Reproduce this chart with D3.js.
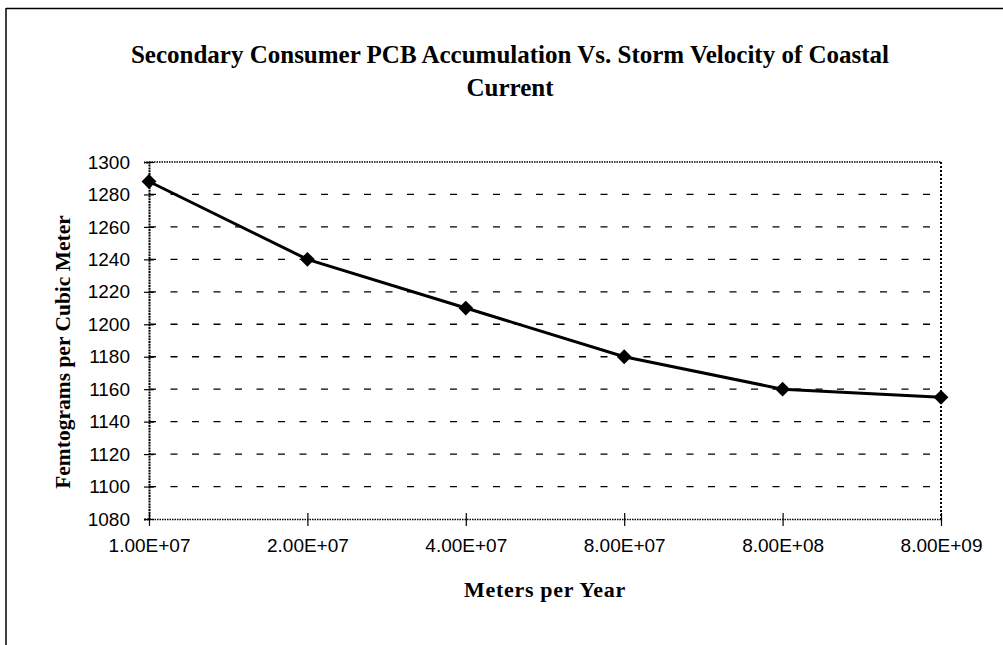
<!DOCTYPE html>
<html><head><meta charset="utf-8">
<script src="https://cdn.jsdelivr.net/npm/d3@7"></script>
<style>body{margin:0;background:#fff;} svg{display:block;}</style>
</head><body>
<svg id="chart" width="1003" height="645"></svg>
<script>
const categories = ["1.00E+07","2.00E+07","4.00E+07","8.00E+07","8.00E+08","8.00E+09"];
const values = [1288, 1240, 1210, 1180, 1160, 1155];
const yTicks = [1080,1100,1120,1140,1160,1180,1200,1220,1240,1260,1280,1300];
const titleLines = ["Secondary Consumer PCB Accumulation Vs. Storm Velocity of Coastal","Current"];
const xTitle = "Meters per Year";
const yTitle = "Femtograms per Cubic Meter";

const svg = d3.select("#chart");
const L = 149, R = 941, T = 162, B = 519;
const x = d3.scalePoint().domain(categories).range([L, R]);
const y = d3.scaleLinear().domain([1080, 1300]).range([B, T]);

// outer frame
svg.append("line").attr("x1",6).attr("x2",1003).attr("y1",8.5).attr("y2",8.5).attr("stroke","#000").attr("stroke-width",1.5);
svg.append("line").attr("x1",6).attr("x2",6).attr("y1",8).attr("y2",645).attr("stroke","#000").attr("stroke-width",1.5);

// title
const serif = "'Liberation Serif','Times New Roman',serif";
const sans = "'Liberation Sans',Arial,sans-serif";
svg.append("g").selectAll("text").data(titleLines).join("text")
  .attr("x", 510).attr("y", (d,i)=> 63 + i*33)
  .attr("text-anchor","middle").attr("font-family",serif).attr("font-weight","bold")
  .attr("font-size",25).text(d=>d);

// grid
svg.append("g").selectAll("line").data(yTicks.filter(v=>v>1080 && v<1300)).join("line")
  .attr("x1",L).attr("x2",R-4).attr("y1",d=>y(d)).attr("y2",d=>y(d))
  .attr("stroke","#000").attr("stroke-width",1.3).attr("stroke-dasharray","7,14.5");

// plot border top / right
svg.append("line").attr("x1",L).attr("x2",R).attr("y1",T).attr("y2",T)
  .attr("stroke","#000").attr("stroke-width",1.5).attr("stroke-dasharray","1.5,1");
svg.append("line").attr("x1",R).attr("x2",R).attr("y1",T).attr("y2",B)
  .attr("stroke","#000").attr("stroke-width",2).attr("stroke-dasharray","2,2");

// y axis
const ya = svg.append("g").attr("transform",`translate(${L},0)`)
  .call(d3.axisLeft(y).tickValues(yTicks).tickFormat(d3.format("d")).tickSize(5).tickPadding(14));
ya.select(".domain").attr("stroke-width",2).attr("stroke-dasharray","2,0.8");
ya.selectAll(".tick line").attr("x1",5).attr("x2",-5).attr("stroke-width",1.2);
ya.selectAll("text").attr("font-family",sans).attr("font-size",19).attr("fill","#000");

// x axis
const xa = svg.append("g").attr("transform",`translate(0,${B})`)
  .call(d3.axisBottom(x).tickSize(6).tickPadding(14).tickSizeOuter(0));
xa.select(".domain").attr("stroke-width",1.5).attr("stroke-dasharray","1.5,1");
xa.selectAll(".tick line").attr("y1",-6).attr("y2",7).attr("stroke-width",1.2);
xa.selectAll("text").attr("font-family",sans).attr("font-size",19).attr("fill","#000");

// axis titles
svg.append("text").attr("x",(L+R)/2).attr("y",597).attr("text-anchor","middle")
  .attr("font-family",serif).attr("font-weight","bold").attr("font-size",22)
  .attr("letter-spacing",0.7).text(xTitle);
svg.append("text").attr("transform",`translate(70,352) rotate(-90)`).attr("text-anchor","middle")
  .attr("font-family",serif).attr("font-weight","bold").attr("font-size",21.5).text(yTitle);

// series
const pts = categories.map((c,i)=>({c, v: values[i]}));
svg.append("path").datum(pts)
  .attr("d", d3.line().x(d=>x(d.c)).y(d=>y(d.v)))
  .attr("fill","none").attr("stroke","#000").attr("stroke-width",3);
svg.append("g").selectAll("path").data(pts).join("path")
  .attr("transform", d=>`translate(${x(d.c)},${y(d.v)}) rotate(45)`)
  .attr("d", d3.symbol(d3.symbolSquare, 110)).attr("fill","#000");
</script>
</body></html>
